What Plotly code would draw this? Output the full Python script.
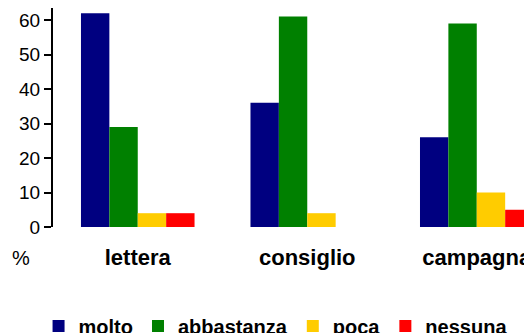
import plotly.graph_objects as go

categories = ["lettera", "consiglio", "campagna"]
series_names = ["molto", "abbastanza", "poca", "nessuna"]
molto = [62, 36, 26]
abbastanza = [29, 61, 59]
poca = [4, 4, 10]
nessuna = [4, 0, 5]
y_ticks = [0, 10, 20, 30, 40, 50, 60]

colors = ["#000080", "#008000", "#FFCC00", "#FF0000"]
values = [molto, abbastanza, poca, nessuna]

FONT = "Liberation Sans, Arial, sans-serif"

fig = go.Figure()
for name, vals, col in zip(series_names, values, colors):
    fig.add_trace(go.Bar(name=name, x=categories, y=vals, marker=dict(color=col, line=dict(width=0))))

fig.update_layout(
    width=532, height=333,
    margin=dict(l=45, r=0, t=0, b=114, autoexpand=False),
    paper_bgcolor="white", plot_bgcolor="white",
    barmode="group", bargap=0.33, bargroupgap=0,
    font=dict(family=FONT, color="black"),
    showlegend=True,
    legend=dict(orientation="h", x=0.457, xanchor="center", yref="container", y=0.045, yanchor="middle",
                font=dict(size=20, family=FONT, weight="bold"),
                traceorder="normal", itemwidth=30),
    xaxis=dict(range=[-0.5, 2.373], showline=False, ticks="", showgrid=False,
               tickfont=dict(size=22, family=FONT, weight="bold"),
               ticklabelstandoff=15, zeroline=False),
    yaxis=dict(range=[0, 63.5], tickvals=y_ticks, showline=True, linecolor="black", linewidth=2,
               ticks="outside", ticklen=7, tickwidth=2, tickcolor="black",
               showgrid=False, zeroline=False,
               tickfont=dict(size=19, family=FONT)),
)
fig.add_annotation(text="%", xref="paper", yref="paper", x=-0.0657, y=-0.1416,
                   xanchor="center", yanchor="middle", showarrow=False,
                   font=dict(size=20, family=FONT))
fig.write_html("out.html")
